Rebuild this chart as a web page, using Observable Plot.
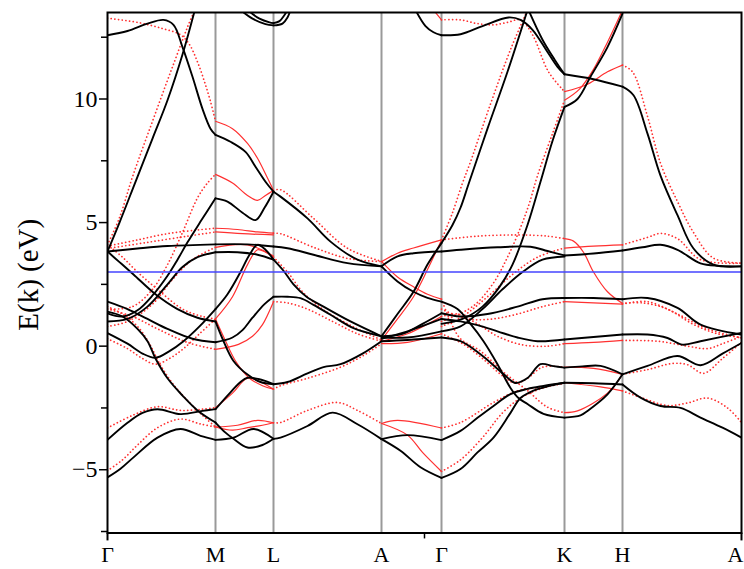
<!DOCTYPE html>
<html><head><meta charset="utf-8">
<script src="https://cdn.jsdelivr.net/npm/d3@7"></script>
<script src="https://cdn.jsdelivr.net/npm/@observablehq/plot@0.6"></script>
<style>body{margin:0;background:#fff}</style>
</head><body><div id="chart"></div>
<script>
// High-symmetry points (k-path distance) and labels
const kPos = [0,108,166,274,334,457,515,634];
const kLab = ["Γ","M","L","A","Γ","K","H","A"];
const shortSeg = [false,true,false,true,false,true,false];
const yMajor = [-5,0,5,10];
const yMinor = [-7.5,-2.5,2.5,7.5,12.5];
const fermi = [3.0];
const yTitle = ["E(k) (eV)"];

// Black bands [k, E]
const bk01 = [[0,12.58],[20,12.75],[40,13.05],[56,13.2],[66,13.0],[75,12.1],[85,10.9],[95,9.6],[103,8.8],[108,8.55],[123,8.27],[138,7.86],[148,7.26],[158,6.65],[166,6.25]];
const bk02 = [[0,3.83],[12,5.0],[28,6.65],[45,8.4],[60,9.95],[75,11.8],[88,13.7]];
const bk03 = [[0,1.33],[15,1.2],[30,1.45],[45,2.05],[60,2.85],[70,3.5],[80,4.2],[93,5.04],[108,5.98],[120,5.85],[135,5.4],[148,5.1],[157,5.6],[166,6.25],[173,6.05],[200,5.17],[223,4.23],[250,3.5],[274,3.23]];
const bk04 = [[0,3.83],[30,3.95],[60,4.05],[108,4.12],[140,4.12],[166,4.03],[180,3.96],[206,3.7],[240,3.36],[274,3.23],[290,3.63],[306,3.76],[334,3.83],[353,3.9],[390,4.0],[423,4.02],[440,3.85],[457,3.67],[486,3.75],[515,3.87],[535,4.0],[553,4.1],[570,3.9],[593,3.35],[612,3.25],[634,3.23]];
const bk05 = [[0,3.83],[12,3.4],[26,2.9],[48,2.1],[70,1.5],[90,1.15],[108,1.0],[115,0.3],[126,-0.6],[140,-1.15],[153,-1.45],[166,-1.54],[180,-1.45],[200,-1.1],[216,-0.85],[233,-0.73],[255,-0.3],[274,0.2]];
const bk06 = [[0,1.8],[20,1.5],[40,1.1],[60,0.7],[85,0.3],[108,0.16],[125,0.35],[135,0.65],[145,1.15],[157,1.7],[166,2.0],[180,2.0],[193,1.94],[206,1.67],[223,1.27],[246,0.73],[274,0.4]];
const bk07 = [[0,1.0],[20,1.1],[40,1.6],[60,2.5],[75,3.2],[90,3.6],[108,3.8],[130,3.8],[150,3.7],[166,3.5]];
const bk08 = [[0,0.53],[20,0.1],[35,-0.3],[48,-0.47],[62,-0.2],[76,0.2],[92,0.8],[108,1.5],[120,2.1],[133,3.0],[142,3.7],[150,4.1],[158,3.9],[166,3.5],[176,3.05],[186,2.5],[199,2.0],[216,1.6],[243,1.0],[274,0.4]];
const bk09 = [[0,1.4],[15,1.2],[30,0.7],[40,0.2],[48,-0.5],[60,-1.3],[75,-2.0],[90,-2.6],[108,-3.09],[118,-3.5],[126,-3.75],[140,-4.1],[155,-4.0],[166,-3.75]];
const bk10 = [[0,-3.79],[20,-3.1],[35,-2.7],[50,-2.55],[73,-2.75],[95,-2.62],[108,-2.55],[120,-2.0],[133,-1.45],[140,-1.28],[153,-1.35],[166,-1.54]];
const bk11 = [[0,-5.31],[13,-4.96],[26,-4.5],[50,-3.7],[73,-3.35],[93,-3.63],[108,-3.79],[126,-3.7],[146,-3.35],[166,-3.75],[173,-3.7],[200,-3.23],[225,-2.69],[250,-3.16],[274,-3.76],[293,-4.23],[313,-4.9],[334,-5.33],[353,-4.97],[370,-4.3],[386,-3.7],[403,-2.7],[413,-2.1],[426,-1.8],[443,-1.6],[457,-1.48],[486,-1.5],[515,-1.55],[533,-2.08],[553,-2.42],[573,-2.5],[593,-2.89],[615,-3.3],[634,-3.7]];
const bk12 = [[274,-3.76],[300,-3.6],[334,-3.8],[353,-3.43],[370,-2.9],[386,-2.42],[403,-1.94],[420,-1.73],[436,-1.61],[457,-1.48]];
const bk13 = [[274,3.23],[290,2.62],[306,2.2],[320,1.95],[334,1.8],[350,1.5],[363,0.9],[376,0.2],[390,-0.73],[403,-1.69],[411,-2.1],[420,-2.34],[436,-2.74],[457,-2.89],[473,-2.8],[480,-2.62],[500,-1.95],[515,-1.14],[540,-0.8],[570,-0.4],[593,-0.77],[615,-0.3],[634,0.13]];
const bk14 = [[274,0.2],[300,0.25],[334,0.35],[353,0.2],[373,-0.33],[396,-1.13],[408,-1.49],[420,-1.29],[433,-0.73],[446,-0.81],[457,-0.87],[475,-0.82],[493,-0.8],[515,-1.14]];
const bk15 = [[274,0.4],[290,1.3],[306,2.2],[320,3.3],[334,4.17],[345,4.9],[353,5.6],[361,6.55],[380,8.8],[400,11.1],[420,13.6]];
const bk16 = [[274,0.4],[295,0.5],[315,0.9],[334,1.33],[353,1.2],[380,1.3],[410,1.6],[435,1.9],[457,1.95],[486,1.95],[515,1.9],[540,1.95],[570,1.55],[593,0.87],[634,0.47]];
const bk17 = [[274,0.35],[300,0.35],[334,0.6],[353,0.8],[375,1.5],[395,2.3],[415,3.0],[435,3.5],[457,3.63]];
const bk18 = [[274,0.3],[300,0.6],[334,1.1],[353,1.0],[370,0.85],[390,0.6],[410,0.35],[430,0.2],[457,0.27],[486,0.37],[515,0.47],[540,0.47],[560,0.33],[575,0.06],[593,0.2],[634,0.54]];
const bk19 = [[334,0.9],[355,1.1],[375,1.6],[392,2.4],[405,3.3],[420,4.9],[433,6.65],[445,8.3],[457,9.68],[470,10.0],[483,10.9],[500,12.1],[515,13.45]];
const bk20 = [[133,13.6],[145,13.25],[158,13.03],[166,12.98],[175,13.05],[180,13.3],[183,13.6]];
const bk21 = [[140,13.6],[152,13.25],[162,13.1],[166,13.07],[172,13.15],[177,13.4],[180,13.6]];
const bk22 = [[308,13.6],[318,12.95],[326,12.7],[334,12.58],[353,12.62],[375,12.95],[401,13.3],[413,13.2],[425,12.8],[440,11.9],[450,11.3],[457,11.0],[486,10.8],[515,10.5],[526,10.15],[540,8.6],[553,6.9],[570,5.3],[586,3.95],[606,3.3],[634,3.23]];
const bk23 = [[421,13.6],[435,12.4],[447,11.6],[457,11.0]];

// Red bands [k, E]
const rd01 = [[0,13.27],[30,13.1],[55,12.85],[73,12.6],[82,12.2],[90,11.5],[97,10.7],[103,9.9],[108,9.1],[125,8.8],[140,8.2],[150,7.6],[160,6.8],[166,6.3]];
const rd02 = [[0,4.1],[12,5.2],[25,6.85],[45,9.1],[65,11.3],[84,13.3],[88,13.6]];
const rd03 = [[0,1.5],[25,1.6],[45,2.3],[60,3.3],[75,4.6],[90,6.0],[100,6.6],[108,6.95],[125,6.6],[140,6.1],[150,5.9],[158,6.1],[166,6.3],[173,6.33],[206,5.17],[240,3.96],[274,3.43]];
const rd04 = [[0,4.05],[30,4.3],[60,4.55],[90,4.7],[108,4.77],[130,4.72],[150,4.62],[166,4.57],[173,4.55],[206,4.0],[240,3.55],[274,3.42],[290,3.76],[306,3.97],[334,4.3],[370,4.45],[410,4.5],[440,4.45],[457,4.35],[466,4.25],[476,3.8],[486,3.0],[500,2.2],[515,1.73],[535,1.75],[560,1.5],[585,0.9],[610,0.5],[634,0.35]];
const rd05 = [[0,3.95],[40,4.2],[80,4.45],[108,4.62],[135,4.55],[166,4.5]];
const rd06 = [[0,1.5],[25,1.2],[50,0.7],[80,0.15],[108,-0.13],[131,0.07],[145,0.4],[155,0.87],[166,1.8],[180,1.75],[200,1.5],[225,1.0],[250,0.5],[274,0.2]];
const rd07 = [[0,0.3],[20,-0.1],[35,-0.5],[48,-0.73],[62,-0.5],[76,-0.1],[92,0.5],[108,1.1],[125,2.0],[140,3.3],[150,3.9],[158,3.8],[166,3.6],[180,3.0],[195,2.2],[215,1.5],[245,0.8],[274,0.25]];
const rd08 = [[0,0.8],[20,1.0],[45,1.7],[65,2.7],[85,3.5],[108,4.0],[140,4.1],[166,3.65]];
const rd09 = [[0,4.1],[15,3.6],[30,3.0],[50,2.3],[75,1.5],[95,1.2],[108,1.1],[117,0.3],[128,-0.6],[142,-1.3],[155,-1.6],[166,-1.74],[173,-1.6],[200,-1.3],[233,-0.85],[255,-0.4],[274,0.1]];
const rd10 = [[0,1.6],[15,1.3],[30,0.8],[42,0.1],[52,-0.7],[65,-1.5],[80,-2.2],[95,-2.8],[108,-3.27],[125,-3.4],[140,-3.3],[155,-3.2],[166,-3.1],[173,-3.09],[200,-2.6],[230,-2.28],[250,-2.6],[274,-3.13],[290,-3.0],[334,-3.31],[353,-3.09],[386,-2.28],[410,-1.81],[430,-1.68],[457,-1.48],[493,-1.65],[515,-1.81],[535,-2.1],[560,-2.4],[580,-2.3],[600,-2.1],[620,-2.5],[634,-3.09]];
const rd11 = [[0,-3.31],[25,-2.8],[50,-2.45],[73,-2.6],[95,-2.55],[108,-2.49],[125,-1.9],[140,-1.3],[153,-1.45],[166,-1.74]];
const rd12 = [[0,-5.04],[15,-4.6],[30,-4.0],[50,-3.3],[73,-2.95],[93,-3.15],[108,-3.27],[130,-3.2],[150,-3.0],[166,-3.1]];
const rd13 = [[274,-3.13],[300,-3.6],[315,-4.3],[334,-5.07],[353,-4.6],[375,-3.7],[395,-2.7],[413,-2.1],[435,-1.7],[457,-1.5]];
const rd14 = [[274,0.25],[290,1.1],[306,2.0],[320,3.1],[334,4.3],[345,5.4],[355,6.6],[363,7.46],[383,9.8],[403,12.0],[420,13.6]];
const rd15 = [[326,13.6],[334,13.2],[353,13.2],[370,13.05],[386,13.0],[400,13.1],[413,13.2],[425,12.6],[441,11.1],[457,10.3],[480,10.6],[500,11.1],[515,11.37],[525,11.1],[540,9.3],[553,7.4],[570,5.85],[586,4.6],[606,3.56],[634,3.36]];
const rd16 = [[334,1.0],[365,1.6],[385,2.5],[400,3.6],[413,4.8],[422,5.8],[430,6.9],[445,8.6],[457,9.95],[472,10.4],[486,11.2],[500,12.3],[515,13.6]];
const rd17 = [[334,0.8],[355,1.2],[380,2.0],[405,2.9],[430,3.6],[457,3.97],[486,4.05],[515,4.1],[540,4.4],[553,4.56],[570,4.35],[593,3.5],[634,3.36]];
const rd18 = [[334,1.5],[360,1.1],[385,1.1],[410,1.3],[435,1.6],[457,1.8],[486,1.75],[515,1.7],[540,1.8],[570,1.3],[600,0.7],[634,0.33]];
const rd19 = [[274,3.43],[290,2.8],[306,2.4],[320,2.1],[334,1.9],[343,1.0],[353,0.3],[373,-0.2],[396,-1.05],[420,-1.8],[440,-2.47],[457,-2.69],[470,-2.62],[500,-1.9],[515,-1.14],[540,-0.95],[565,-0.7],[580,-0.75],[596,-1.1],[615,-0.5],[634,0.15]];
const rd20 = [[274,0.1],[300,0.15],[334,0.5],[355,0.1],[375,-0.5],[395,-1.2],[408,-1.5],[420,-1.3],[435,-0.85],[457,-0.85],[486,-0.9],[515,-1.14]];
const rd21 = [[274,0.2],[300,0.5],[334,1.2],[350,1.3],[370,0.9],[390,0.4],[415,0.05],[440,0.0],[457,0.1],[486,0.15],[515,0.23],[550,0.2],[580,0.0],[600,-0.1],[615,0.1],[634,0.4]];

const blackBands = [bk01,bk02,bk03,bk04,bk05,bk06,bk07,bk08,bk09,bk10,bk11,bk12,bk13,bk14,bk15,bk16,bk17,bk18,bk19,bk20,bk21,bk22,bk23];
const redBands = [rd01,rd02,rd03,rd04,rd05,rd06,rd07,rd08,rd09,rd10,rd11,rd12,rd13,rd14,rd15,rd16,rd17,rd18,rd19,rd20,rd21];

// split each band into pieces per path segment
function segOf(a,b){
  const m=(a+b)/2; let s=0;
  while(s<kPos.length-2 && m>kPos[s+1]) s++;
  return s;
}
function toRows(bands, tag){
  const rows=[];
  bands.forEach((c,ci)=>{
    let curSeg=-1, pc=0;
    for(let i=0;i<c.length-1;i++){
      const s=segOf(c[i][0],c[i+1][0]);
      if(s!==curSeg){ pc++; curSeg=s; rows.push({id:tag+ci+"_"+pc, seg:s, short:shortSeg[s], k:c[i][0], E:c[i][1]}); }
      rows.push({id:tag+ci+"_"+pc, seg:s, short:shortSeg[s], k:c[i+1][0], E:c[i+1][1]});
    }
  });
  return rows;
}
const blackRows = toRows(blackBands,"b");
const redRows = toRows(redBands,"r");

const font = "'Liberation Serif','Times New Roman',serif";
const nLab = kLab.length;
const chart = Plot.plot({
  width:744, height:569,
  marginLeft:107, marginRight:3, marginTop:12, marginBottom:36.5,
  style:{fontFamily:font, background:"#fff", color:"#000"},
  x:{domain:[0,634], axis:null},
  y:{domain:[-7.56,13.5], axis:null},
  marks:[
    Plot.ruleX(kPos.slice(1,-1), {stroke:"#999", strokeWidth:2}),
    Plot.line(redRows.filter(d=>!d.short), {x:"k", y:"E", z:"id", stroke:"#ff3030", strokeWidth:1.7, strokeDasharray:"0.1,3.6", strokeLinecap:"round", curve:"catmull-rom", clip:true}),
    Plot.line(redRows.filter(d=>d.short), {x:"k", y:"E", z:"id", stroke:"#ff3030", strokeWidth:1.2, curve:"catmull-rom", clip:true}),
    Plot.line(blackRows, {x:"k", y:"E", z:"id", stroke:"#000", strokeWidth:1.9, curve:"catmull-rom", clip:true}),
    Plot.ruleY(fermi, {stroke:"#4444ff", strokeWidth:1.6}),
    Plot.frame({stroke:"#000", strokeWidth:2}),
    Plot.ruleX([kPos[0], kPos[nLab-1]], {y1:-7.56, y2:-7.88, stroke:"#000", strokeWidth:2}),
    Plot.ruleX([317], {y1:-7.56, y2:-7.8, stroke:"#000", strokeWidth:1.5}),
    Plot.axisY({ticks:yMajor, tickSize:8, tickPadding:2, fontSize:24, strokeWidth:1.5, label:null}),
    Plot.axisY({ticks:yMinor, tickSize:6, tickFormat:()=>"", strokeWidth:1.5, label:null}),
    Plot.text(kLab.slice(0,nLab-1), {x:kPos.slice(0,nLab-1), frameAnchor:"bottom", dy:22, fontSize:22, lineAnchor:"middle"}),
    Plot.text(kLab.slice(nLab-1), {x:kPos.slice(nLab-1), frameAnchor:"bottom", dy:22, dx:2, fontSize:22, lineAnchor:"middle", textAnchor:"end"}),
    Plot.text(yTitle, {frameAnchor:"left", dx:-79, dy:2, rotate:-90, fontSize:29, textAnchor:"middle", lineAnchor:"middle"})
  ]
});
document.getElementById("chart").appendChild(chart);
</script>
</body></html>
